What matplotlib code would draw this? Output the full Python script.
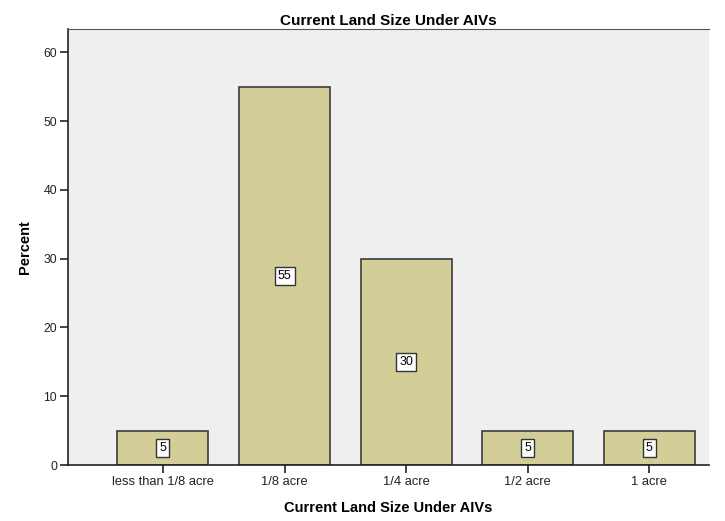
import matplotlib.pyplot as plt

categories = ["less than 1/8 acre", "1/8 acre", "1/4 acre", "1/2 acre", "1 acre"]
percent = [5, 55, 30, 5, 5]
yticks = [0, 10, 20, 30, 40, 50, 60]

plt.rcParams['font.family'] = ['Liberation Sans', 'DejaVu Sans']

fig = plt.figure(figsize=(7.25, 5.21), dpi=100)
ax = fig.add_axes([68/725, 1 - 465/521, (709-68)/725, (465-29)/521])
ax.set_facecolor('#efefef')

x = range(len(categories))
ax.bar(x, percent, width=0.75, color='#d3ce97', edgecolor='#3c3c3c', linewidth=1.2, zorder=2)

# value boxes sit at half the bar height
for xi, v in zip(x, percent):
    ax.text(xi, v / 2, str(v), ha='center', va='center', fontsize=9, zorder=3,
            bbox=dict(boxstyle='square,pad=0.25', fc='white', ec='#333333', lw=1))

ax.set_xlim(-0.78, 4.49)
ax.set_ylim(0, 63.4)
ax.set_yticks(yticks)
ax.set_xticks(list(x))
ax.set_xticklabels(categories, fontsize=9.3)
ax.tick_params(axis='y', labelsize=8.8, length=6, width=1.2, colors='#222222', pad=2)
ax.tick_params(axis='x', length=6, width=1.2, colors='#222222', direction='out', pad=2)

ax.spines['right'].set_visible(False)
ax.spines['top'].set_color('#555555')
ax.spines['left'].set_color('#222222')
ax.spines['left'].set_linewidth(1.2)
ax.spines['bottom'].set_color('#222222')
ax.spines['bottom'].set_linewidth(1.2)

ax.set_title("Current Land Size Under AIVs", fontsize=11, fontweight='bold', pad=3)
ax.set_xlabel("Current Land Size Under AIVs", fontsize=10.5, fontweight='bold', labelpad=9)
ax.set_ylabel("Percent", fontsize=10.5, fontweight='bold', labelpad=8)

plt.savefig("out.png", dpi=100)
